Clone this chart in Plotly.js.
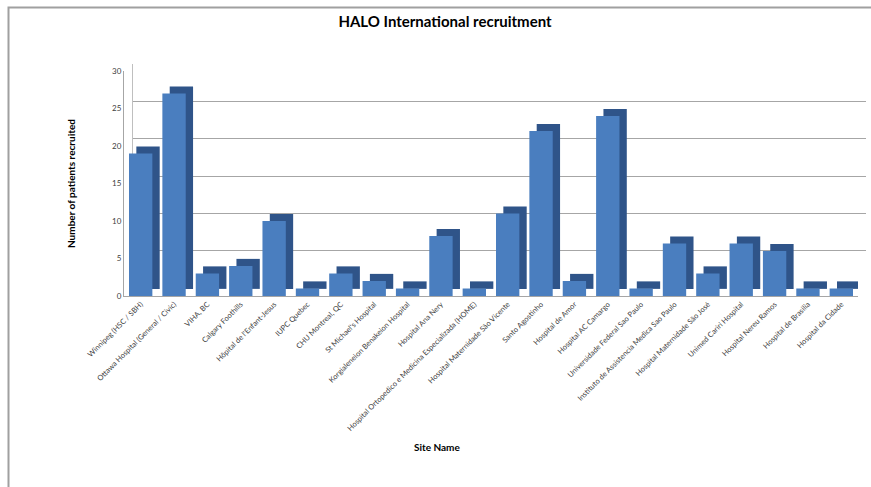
<!DOCTYPE html>
<html>
<head>
<meta charset="utf-8">
<script src="https://cdn.plot.ly/plotly-3.0.1.min.js"></script>
<style>html,body{margin:0;padding:0;background:#fff;}#chart{width:871px;height:487px;}</style>
</head>
<body>
<div id="chart"></div>
<script>
const sites = [
  "Winnipeg (HSC / SBH)",
  "Ottawa Hospital (General / Civic)",
  "VIHA, BC",
  "Calgary Foothills",
  "Hôpital de l'Enfant-Jesus",
  "IUPC Quebec",
  "CHU Montreal, QC",
  "St Michael's Hospital",
  "Korgialeneion Benakeion Hospital",
  "Hospital Ana Nery",
  "Hospital Ortopedico e Medicina Especializada (HOME)",
  "Hospital Maternidade São Vicente",
  "Santo Agostinho",
  "Hospital de Amor",
  "Hospital AC Camargo",
  "Universidade Federal Sao Paulo",
  "Instituto de Assistencia Medica Sao Paulo",
  "Hospital Maternidade São José",
  "Unimed Cariri Hospital",
  "Hospital Nereu Ramos",
  "Hospital de Brasilia",
  "Hospital da Cidade"
];
const recruited = [19, 27, 3, 4, 10, 1, 3, 2, 1, 8, 1, 11, 22, 2, 24, 1, 7, 3, 7, 6, 1, 1];
const yTicks = [0, 5, 10, 15, 20, 25, 30];

const FONT = "Lato, 'Open Sans', sans-serif";
const W = 871, H = 487;
const L = 124, R = 5, T = 64, B = 191;
const pw = W - L - R, ph = H - T - B;

const traces = [
  // back wall subplot (gridlines only)
  {type: 'scatter', x: [], y: [], xaxis: 'x', yaxis: 'y', showlegend: false, hoverinfo: 'skip'},
  // side/top depth of the bars
  {type: 'bar', x: sites, y: recruited, base: 0.95, offset: -0.13, width: 0.7,
   xaxis: 'x2', yaxis: 'y2', marker: {color: '#2f5489', line: {width: 0}}, hoverinfo: 'skip', showlegend: false},
  // front face
  {type: 'bar', x: sites, y: recruited, offset: -0.35, width: 0.7,
   xaxis: 'x2', yaxis: 'y2', marker: {color: '#4a7ebf', line: {width: 0}}, name: 'Recruited', showlegend: false}
];

const layout = {
  width: W, height: H,
  margin: {l: L, r: R, t: T, b: B, pad: 0},
  paper_bgcolor: '#ffffff', plot_bgcolor: 'rgba(0,0,0,0)',
  barmode: 'overlay',
  showlegend: false,
  font: {family: FONT, color: '#404040'},
  title: {text: '<b>HALO International recruitment</b>', font: {family: FONT, size: 15, color: '#000'},
          x: 445 / W, xanchor: 'center', y: 1 - 22 / H, yanchor: 'middle'},
  xaxis: {domain: [9 / pw, 1], anchor: 'y', type: 'category', categoryarray: sites,
          range: [-0.5, sites.length - 0.5], showticklabels: false, showgrid: false,
          zeroline: false, showline: false, fixedrange: true},
  yaxis: {domain: [8 / ph, 1], anchor: 'x', range: [0, 30], tickvals: yTicks, showticklabels: false,
          showgrid: true, gridcolor: '#a6a6a6', gridwidth: 1, zeroline: false, showline: true,
          linecolor: '#bfbfbf', linewidth: 1, fixedrange: true},
  xaxis2: {domain: [0, (pw - 8) / pw], anchor: 'y2', type: 'category', categoryarray: sites,
           range: [-0.5, sites.length - 0.5], tickangle: -45, ticks: '', showgrid: false,
           zeroline: false, showline: true, linecolor: '#a6a6a6', linewidth: 1,
           tickfont: {family: FONT, size: 7.5, color: '#404040'}, automargin: false},
  yaxis2: {domain: [0, (ph - 7) / ph], anchor: 'x2', range: [0, 30], tickvals: yTicks,
           ticks: '', showgrid: false, zeroline: false, showline: true, linecolor: '#a6a6a6',
           tickfont: {family: FONT, size: 8, color: '#404040'}, automargin: false,
           title: {text: '<b>Number of patients recruited</b>', font: {family: FONT, size: 10, color: '#000'}, standoff: 34}},
  annotations: [
    {text: '<b>Site Name</b>', xref: 'paper', yref: 'paper', x: (437 - L) / pw, y: (H - B - 447) / ph,
     xanchor: 'center', yanchor: 'middle', showarrow: false, font: {family: FONT, size: 10, color: '#000'}}
  ],
  shapes: [
    {type: 'rect', xref: 'paper', yref: 'paper', x0: (8.5 - L) / pw, x1: 1.2, y0: -1.0, y1: 1 + (T - 7.5) / ph,
     line: {color: '#a0a0a0', width: 2}, fillcolor: 'rgba(0,0,0,0)', layer: 'below'}
  ]
};

Plotly.newPlot('chart', traces, layout, {displayModeBar: false, staticPlot: true});
</script>
</body>
</html>
